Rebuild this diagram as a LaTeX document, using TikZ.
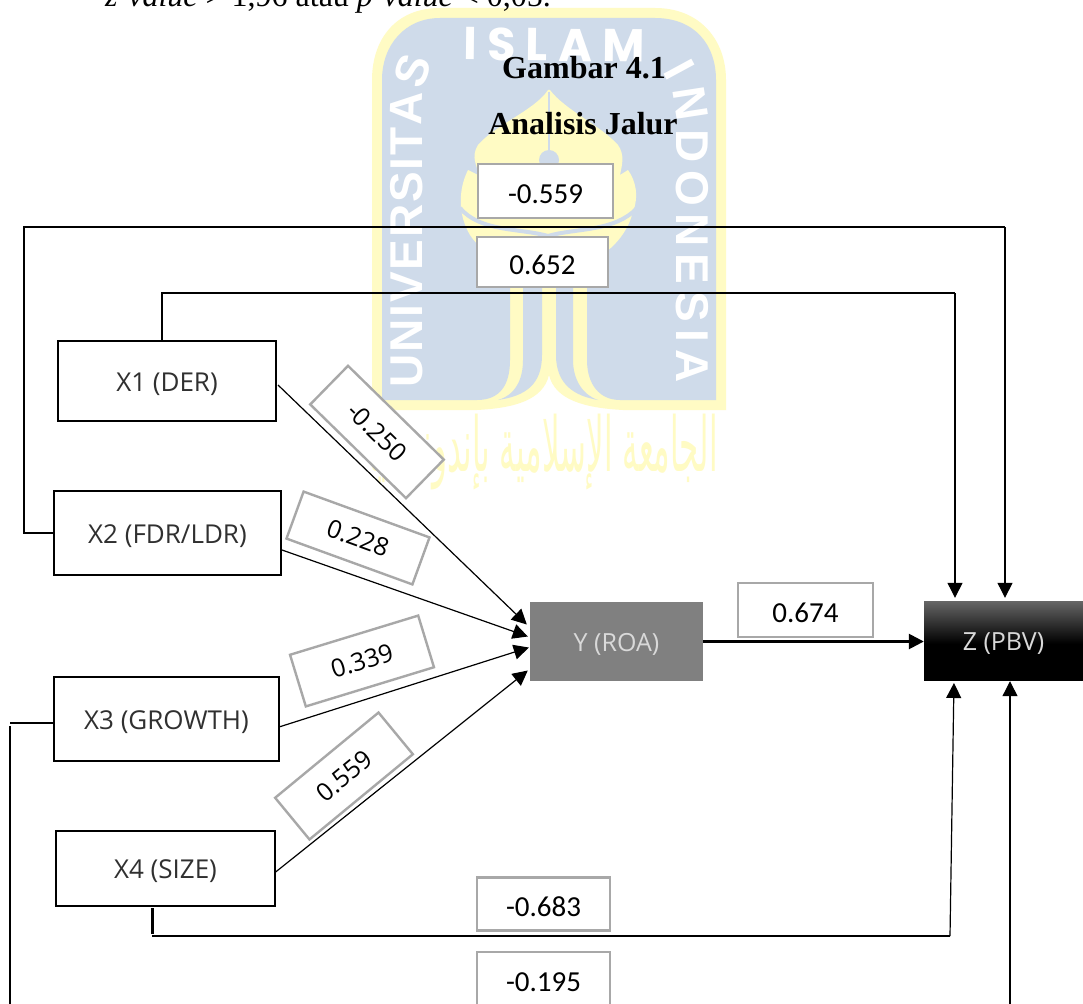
\documentclass[tikz,border=0pt]{standalone}
\usepackage{fontspec}
\setmainfont{Liberation Serif}
\newfontfamily\opensans{Open Sans}
\newfontfamily\carl{Carlito}
\newfontfamily\wmfont{Liberation Sans}
\newfontfamily\wmwide{Poppins}
\newfontfamily\arabicfont[Script=Arabic]{DejaVu Sans}
\TeXXeTstate=1
\usetikzlibrary{arrows.meta,decorations.text,calc}
\definecolor{wmyellow}{HTML}{FFFBC4}
\definecolor{wmblue}{HTML}{CFDBEA}
\definecolor{lblgray}{HTML}{A8A8A8}
\definecolor{txtgray}{HTML}{303030}
\pgfdeclareverticalshading{zshade}{100bp}{color(0bp)=(black);color(25bp)=(black);color(48bp)=(black);color(75bp)=(black!60!white);color(100bp)=(black!60!white)}
\tikzset{
  x=1pt,y=-1pt,
  varbox/.style={draw=black,line width=1.6pt,fill=white,inner sep=0pt,outer sep=0pt,text=txtgray,font=\opensans\fontsize{26}{28}\selectfont,text height=20pt,text depth=0pt},
  lblbox/.style={draw=lblgray,line width=2.4pt,fill=white,inner sep=0pt,outer sep=0pt,minimum width=134pt,text=black,font=\carl\fontsize{29}{32}\selectfont,text height=24pt,text depth=0pt},
  rotbox/.style={draw=lblgray,line width=2.4pt,fill=white,inner sep=0pt,outer sep=0pt,minimum width=134pt,minimum height=54pt,text=black,font=\opensans\fontsize{25}{28}\selectfont},
  ln/.style={draw=black,line width=1.2pt},
  arr/.style={ln,-{Triangle[length=15pt,width=15pt]}},
  title/.style={inner sep=0pt,anchor=base,font=\bfseries\fontsize{32}{36}\selectfont},
  filledvar/.style={inner sep=0pt,text=white!85!black,font=\opensans\fontsize{25}{28}\selectfont,text height=20pt,text depth=0pt}
}
\begin{document}
\begin{tikzpicture}
\useasboundingbox (0,0) rectangle (1083,1003);
\fill[white] (0,0) rectangle (1083,1003);
% watermark: outer frame
\fill[wmyellow] (372,410) -- (372,80) .. controls (372,40) and (395,8) .. (440,8) -- (655,8) .. controls (700,8) and (726,40) .. (726,80) -- (726,410) -- (623,410) .. controls (585,408) and (555,400) .. (549,375) .. controls (543,400) and (515,408) .. (477,410) -- cycle;
% watermark: blue field
\fill[wmblue] (382,400) -- (382,80) .. controls (382,45) and (405,18) .. (440,18) -- (655,18) .. controls (695,18) and (716,45) .. (716,80) -- (716,400) -- (620,400) .. controls (600,400) and (587,385) .. (587,360) -- (587,250) -- (510,250) -- (510,360) .. controls (510,385) and (500,400) .. (477,400) -- cycle;
\fill[wmblue] (523,255) -- (523,360) .. controls (523,380) and (515,395) .. (498,400) .. controls (525,396) and (542,385) .. (542,355) -- (542,255) -- cycle;
\fill[wmblue] (556,255) -- (556,355) .. controls (556,385) and (575,396) .. (598,400) .. controls (583,395) and (573,380) .. (573,360) -- (573,255) -- cycle;
% watermark: crest
\fill[wmyellow] (548,90) .. controls (535,110) and (495,125) .. (478,145) .. controls (470,158) and (478,165) .. (478,175) -- (468,170) .. controls (458,190) and (458,215) .. (470,235) .. controls (485,258) and (510,262) .. (515,262) -- (580,262) .. controls (600,262) and (625,240) .. (632,215) .. controls (640,195) and (635,180) .. (628,170) -- (620,175) .. controls (622,165) and (625,155) .. (618,145) .. controls (600,125) and (565,110) .. (550,90) -- cycle;
\draw[wmblue,line width=2.5pt] (549,92) -- (549,155);
\fill[wmblue] (549,160) circle[radius=10];
\draw[wmblue,line width=4pt] (460,208) .. controls (480,232) and (520,228) .. (548,236) .. controls (575,228) and (615,232) .. (637,208);
% watermark: lettering
\path[postaction={decorate,decoration={text along path,text align={fit to path},text={|\wmfont\bfseries\fontsize{46}{46}\selectfont\color{white}|UNIVERSITAS}}}] (422,387) -- (422,115) .. controls (422,95) and (425,78) .. (434,62);
\path[postaction={decorate,decoration={text along path,text align={fit to path},text={|\wmwide\bfseries\fontsize{46}{46}\selectfont\color{white}|ISLAM}}}] (463,60) -- (645,62);
\path[postaction={decorate,decoration={text along path,text align={fit to path},text={|\wmfont\bfseries\fontsize{46}{46}\selectfont\color{white}|INDONESIA}}}] (662,72) .. controls (670,85) and (676,100) .. (676,120) -- (676,383);
\node[inner sep=0pt,text=wmyellow] (wmarabic) at (543,452) {\scalebox{0.735}[1.8]{\arabicfont\fontsize{42}{50}\selectfont\beginR الجامعة الإسلامية بإندونيسيا\endR}};
% text
\node[inner sep=0pt,anchor=base west,font=\itshape\fontsize{32}{36}\selectfont] (head) at (105,7) {z-value\upshape{} > 1,96 atau \itshape p-value\upshape{} < 0,05.};
\node[title] (t1) at (584,79) {Gambar 4.1};
\node[title] (t2) at (583,135) {Analisis Jalur};
% nodes
\node[varbox,minimum width=218pt,minimum height=80pt] (x1) at (167,381) {X1 (DER)};
\node[varbox,minimum width=227pt,minimum height=84pt] (x2) at (167.5,533) {X2 (FDR/LDR)};
\node[varbox,minimum width=225pt,minimum height=84pt] (x3) at (166.5,719) {X3 (GROWTH)};
\node[varbox,minimum width=219pt,minimum height=75pt] (x4) at (165.5,868.5) {X4 (SIZE)};
\node[filledvar,fill=black!50,minimum width=173pt,minimum height=79pt] (y) at (616.5,641.5) {Y (ROA)};
\node[filledvar,shading=zshade,minimum width=159pt,minimum height=79pt] (z) at (1003.5,640.5) {Z (PBV)};
% coordinates
\coordinate (a1) at (24,227); \coordinate (a2) at (1005,227);
\coordinate (b1) at (162,293); \coordinate (b2) at (955,293);
\coordinate (c1) at (152,936); \coordinate (c2) at (950,936);
\coordinate (d1) at (10,723); \coordinate (d2) at (10,726); \coordinate (d3) at (10,1004);
\coordinate (d4) at (1010,1004);
% long connectors
\draw[ln] (x2.west) -- (a1 |- x2.west) -- (a1) -- (a2);
\draw[arr,shorten >=3pt] (a2) -- (a2 |- z.north);
\draw[ln] (b1 |- x1.north) -- (b1) -- (b2);
\draw[arr,shorten >=3pt] (b2) -- (b2 |- z.north);
\draw[ln,line width=3pt] ([yshift=-2pt]c1 |- x4.south) -- ([yshift=2pt]c1);
\draw[ln] (c1) -- (c2);
\draw[arr,shorten >=3pt] (c2) -- (954,680);
\draw[ln] ([yshift=-4pt]x3.west) -- ([yshift=-4pt]d1 |- x3.west);
\draw[ln] (d2) -- (d3);
\draw[arr,shorten >=1pt] (d4) -- (d4 |- z.south);
% diagonals and main arrow
\draw[arr] ([yshift=-4pt,xshift=2pt]x1.east) -- ([xshift=-3pt,yshift=17pt]y.west);
\draw[arr] ([yshift=-17pt,xshift=1pt]x2.east) -- ([xshift=-2pt,yshift=5pt]y.west);
\draw[arr] ([yshift=-8pt]x3.east) -- ([xshift=-1pt,yshift=-6pt]y.west);
\draw[arr] ([yshift=-4pt]x4.east) -- ([xshift=-2pt,yshift=-29pt]y.west);
\draw[arr,line width=2.6pt] (y.east) -- (y.east -| z.west);
% labels
\node[lblbox,minimum width=135pt,minimum height=54pt] (l1) at (545.5,191) {-0.559};
\node[lblbox,minimum width=131pt,minimum height=50pt] (l2) at (542.5,262) {0.652};
\node[lblbox,minimum width=135pt,minimum height=54pt] (l3) at (805.5,610) {0.674};
\node[lblbox,minimum width=133pt,minimum height=53pt] (l4) at (543.5,904) {-0.683};
\node[lblbox,minimum width=133pt,minimum height=54pt] (l5) at (543.5,979) {-0.195};
\node[rotbox,rotate=-44.4] (l6) at (377,432) {-0.250};
\node[rotbox,rotate=-20,minimum height=50pt] (l7) at (358,538) {0.228};
\node[rotbox,rotate=17] (l8) at (362,661) {0.339};
\node[rotbox,rotate=39.5] (l9) at (344,776) {0.559};
\end{tikzpicture}
\end{document}
